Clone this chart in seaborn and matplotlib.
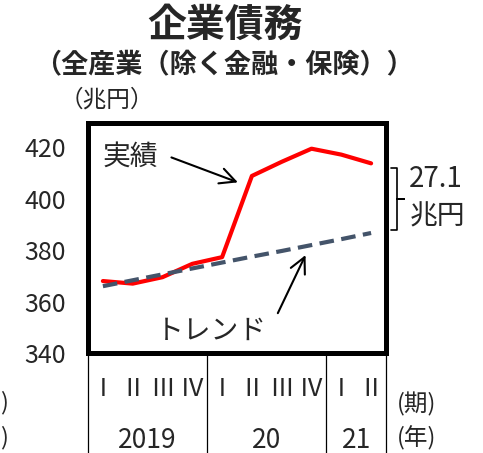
import numpy as np
import pandas as pd
import matplotlib
matplotlib.use("Agg")
import matplotlib.pyplot as plt
import matplotlib.transforms as mtrans
import seaborn as sns

sns.set_style("white")
plt.rcParams['font.family'] = ['Noto Sans CJK JP', 'DejaVu Sans']

# data: 2019 Q1 .. 2021 Q2 (trillion yen)
quarters = ["Ⅰ", "Ⅱ", "Ⅲ", "Ⅳ", "Ⅰ", "Ⅱ", "Ⅲ", "Ⅳ", "Ⅰ", "Ⅱ"]
years = ["2019", "20", "21"]
year_span = [(0, 3), (4, 7), (8, 9)]
actual = [368.0, 367.0, 369.5, 374.7, 377.3, 408.9, 414.4, 419.5, 417.2, 413.8]
trend = [366.0, 368.3, 370.6, 372.9, 375.2, 377.5, 379.7, 382.0, 384.3, 386.7]
gap_label = "27.1"

df = pd.DataFrame({"q": np.arange(len(quarters)), "actual": actual, "trend": trend})

W, H = 483, 453
fig = plt.figure(figsize=(W / 100, H / 100), dpi=100)
ax = fig.add_axes([88 / W, 1 - 353 / H, 298 / W, 230 / H])

def px(x, y):
    return (x / W, 1 - y / H)

sns.lineplot(data=df, x="q", y="actual", color="#ff0000", lw=3, ax=ax)
sns.lineplot(data=df, x="q", y="trend", color="#44546A", lw=3, ax=ax,
             linestyle=(0, (3.5, 1.8)))

ax.set_xlim(-0.5, len(quarters) - 0.5)
ax.set_ylim(340, 429.5)
ax.set_yticks([340, 360, 380, 400, 420])
ax.set_xticks([])
ax.set_xlabel("")
ax.set_ylabel("")
ax.tick_params(axis="y", length=0, pad=16, labelsize=18)
for s in ax.spines.values():
    s.set_linewidth(3.6)
    s.set_color("black")

# category table below the axes
bt = mtrans.blended_transform_factory(ax.transData, fig.transFigure)
for xv in [-0.5, 3.5, 7.5, 9.5]:
    ax.plot([xv, xv], [1 - 353 / H, 0], color="black", lw=0.9,
            transform=bt, clip_on=False)
for i, q in enumerate(quarters):
    ax.text(i, 1 - 389 / H, q, transform=bt, ha="center", va="center", fontsize=18)
for (a, b), yr in zip(year_span, years):
    ax.text((a + b) / 2, 1 - 440 / H, yr, transform=bt, ha="center", va="center", fontsize=19)
fig.text(*px(417, 404), "(期)", ha="center", va="center", fontsize=17)
fig.text(*px(417, 438), "(年)", ha="center", va="center", fontsize=17)
fig.text(*px(0, 403), ")", ha="left", va="center", fontsize=17)
fig.text(*px(0, 438), ")", ha="left", va="center", fontsize=17)

# titles
fig.text(*px(225, 25), "企業債務", ha="center", va="center", fontsize=28, fontweight="bold")
fig.text(*px(224, 65), "（全産業（除く金融・保険））", ha="center", va="center",
         fontsize=19.5, fontweight="bold")
fig.text(*px(107, 100), "（兆円）", ha="center", va="center", fontsize=17)

# annotations
ax.text(0.93, 416.5, "実績", fontsize=20, ha="center", va="center")
ax.annotate("", xy=(4.53, 406.4), xytext=(2.3, 416.1),
            arrowprops=dict(arrowstyle="->", lw=1.5, color="black",
                            mutation_scale=28, shrinkA=0, shrinkB=0))
ax.annotate("", xy=(6.8, 378.1), xytext=(5.87, 355.5),
            arrowprops=dict(arrowstyle="->", lw=1.5, color="black",
                            mutation_scale=28, shrinkA=0, shrinkB=0))
ax.text(3.63, 348.5, "トレンド", fontsize=20, ha="center", va="center")

# brace showing the gap
bx = mtrans.blended_transform_factory(fig.transFigure, ax.transData)
x0, x1, x2 = 391 / W, 397 / W, 404 / W
top, bot = actual[-1] - 2, trend[-1] + 1.2
mid = (top + bot) / 2
ax.plot([x0, x1, x1, x2, x1, x1, x0], [top, top, mid, mid, mid, bot, bot],
        color="black", lw=1.2, transform=bx, clip_on=False)
fig.text(*px(436, 179), gap_label, ha="center", va="center", fontsize=20)
fig.text(*px(437, 216), "兆円", ha="center", va="center", fontsize=20)

fig.savefig("out.png", dpi=100)
